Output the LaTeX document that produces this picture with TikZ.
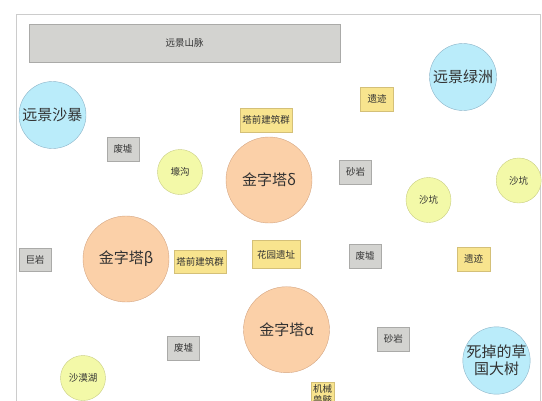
\documentclass[tikz,border=0pt]{standalone}
\usepackage{fontspec}
\setmainfont{Noto Sans CJK SC}
\definecolor{gfill}{RGB}{211,211,208}
\definecolor{gline}{RGB}{170,170,168}
\definecolor{yfill}{RGB}{248,228,142}
\definecolor{yline}{RGB}{212,192,120}
\definecolor{cfill}{RGB}{186,236,250}
\definecolor{cline}{RGB}{140,180,200}
\definecolor{pfill}{RGB}{251,208,168}
\definecolor{pline}{RGB}{212,165,130}
\definecolor{sfill}{RGB}{243,249,168}
\definecolor{sline}{RGB}{200,205,130}
\definecolor{tcol}{RGB}{50,50,50}
\begin{document}
\begin{tikzpicture}[x=1pt,y=-1pt,
  every node/.style={text=tcol, font=\fontsize{9.5}{11.5}\selectfont, inner sep=0pt, align=center},
  graybox/.style={draw=gline, fill=gfill, rectangle, minimum width=32pt, minimum height=24pt},
  yelbox/.style={draw=yline, fill=yfill, rectangle, minimum height=24pt},
  bigc/.style={circle, draw=cline, fill=cfill, minimum size=67pt, font=\fontsize{15}{17}\selectfont},
  pyr/.style={circle, draw=pline, fill=pfill, minimum size=86pt, font=\fontsize{15}{17}\selectfont},
  smallc/.style={circle, draw=sline, fill=sfill, minimum size=45pt},
  frame/.style={draw=black!20, line width=0.8pt}]
\useasboundingbox (0,0) rectangle (542,400);
\clip (0,0) rectangle (542,400);
\draw[frame] (16,410) -- (16,14) -- (540,14) -- (540,410);
\node[graybox, minimum width=311pt, minimum height=38pt] (mount) at (184.5,43) {远景山脉};
\node[bigc] (storm) at (52.5,115) {远景沙暴};
\node[bigc] (oasis) at (463,77) {远景绿洲};
\node[bigc] (tree) at (496.5,360.5) {死掉的草\\国大树};
\node[graybox] (ruin1) at (123,149) {废墟};
\node[smallc] (ditch) at (180,172) {壕沟};
\node[yelbox, minimum width=52pt] (front1) at (266,120) {塔前建筑群};
\node[pyr] (pyrd) at (269,180) {金字塔δ};
\node[yelbox, minimum width=33pt] (relic1) at (377,99) {遗迹};
\node[graybox] (sand1) at (355.5,172) {砂岩};
\node[smallc] (pit1) at (518.7,180.5) {沙坑};
\node[smallc] (pit2) at (428.5,200) {沙坑};
\node[graybox, minimum height=23pt] (rock) at (35,259.5) {巨岩};
\node[pyr] (pyrb) at (126,259) {金字塔β};
\node[yelbox, minimum width=52pt, minimum height=23pt] (front2) at (200,261.5) {塔前建筑群};
\node[yelbox, minimum width=48pt, minimum height=28pt] (garden) at (276,254.5) {花园遗址};
\node[graybox] (ruin2) at (365,256) {废墟};
\node[yelbox, minimum width=33pt] (relic2) at (473.5,259) {遗迹};
\node[pyr] (pyra) at (286.5,329.7) {金字塔α};
\node[graybox] (ruin3) at (183.5,348) {废墟};
\node[graybox] (sand2) at (393.3,339) {砂岩};
\node[smallc] (lake) at (83,378) {沙漠湖};
\node[draw=yline, fill=yfill, rectangle, minimum width=23pt, inner ysep=2.5pt, anchor=north] (mech) at (322.5,381.7) {机械\\兽骸};
\end{tikzpicture}
\end{document}
